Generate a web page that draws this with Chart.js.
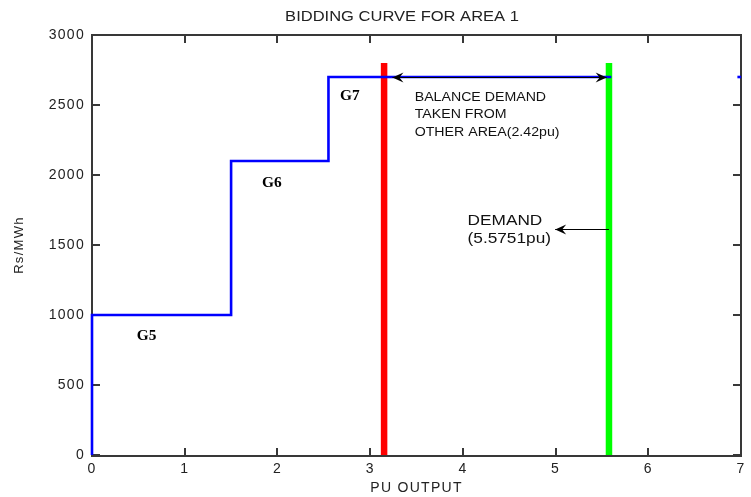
<!DOCTYPE html>
<html><head><meta charset="utf-8">
<script src="https://cdn.jsdelivr.net/npm/chart.js@4/dist/chart.umd.min.js"></script>
<style>html,body{margin:0;padding:0;background:#fff}</style>
</head><body><canvas id="c" width="751" height="497"></canvas>
<script>
// ---- data ----
const titleText = 'BIDDING CURVE FOR AREA 1';
const xTitle = 'PU OUTPUT';
const yTitle = 'Rs/MWh';
const xTicks = [0, 1, 2, 3, 4, 5, 6, 7];
const yTicks = [0, 500, 1000, 1500, 2000, 2500, 3000];
// stepped bidding curve (null = gap)
const bidX = [0, 0, 1.5, 1.5, 2.55, 2.55, 5.6, null, 6.96, 7.0];
const bidY = [0, 1000, 1000, 2100, 2100, 2700, 2700, null, 2700, 2700];
// own-area generation limit (red) and demand (green)
const genLimitX = [3.15, 3.15];
const genLimitY = [0, 2800];
const demandX = [5.5751, 5.5751];
const demandY = [0, 2800];
// generator labels
const genNames = ['G5', 'G6', 'G7'];
const genNameX = [0.59, 1.94, 2.78];
const genNameY = [850, 1943, 2564];
// annotations
const balanceLines = ['BALANCE DEMAND', 'TAKEN FROM', 'OTHER AREA(2.42pu)'];
const balanceX = 3.48;
const balanceY = [2552, 2428, 2302];
const demandLines = ['DEMAND', '(5.5751pu)'];
const demandTextX = 4.05;
const demandTextY = [1674, 1543];
const balArrowX = [3.24, 5.55];
const balArrowY = 2700;
const demArrowX = [5.5751, 4.995];
const demArrowY = 1614;

function segments(xs, ys) {
  const out = []; let cur = [];
  xs.forEach((x, i) => {
    if (x === null) { if (cur.length) out.push(cur); cur = []; }
    else cur.push({x: x, y: ys[i]});
  });
  if (cur.length) out.push(cur);
  return out;
}
const toPts = (xs, ys) => xs.map((x, i) => ({x: x, y: ys[i]}));

function arrowHead(ctx, tx, ty, dir) {
  const L = 11, W = 5, N = 7;
  ctx.beginPath();
  ctx.moveTo(tx, ty);
  ctx.lineTo(tx - dir * L, ty - W);
  ctx.lineTo(tx - dir * N, ty);
  ctx.lineTo(tx - dir * L, ty + W);
  ctx.closePath();
  ctx.fill();
}

function drawFrame(chart) {
  const {ctx, chartArea: a, scales} = chart;
  ctx.save();
  ctx.fillStyle = '#383838';
  const L = Math.round(a.left) - 1, R = Math.round(a.right) - 1;
  const T = Math.round(a.top) - 1, B = Math.round(a.bottom);
  ctx.fillRect(L, T, R - L + 2, 2);
  ctx.fillRect(L, B, R - L + 2, 2);
  ctx.fillRect(L, T, 2, B - T + 2);
  ctx.fillRect(R, T, 2, B - T + 2);
  const len = 7;
  for (const v of xTicks) {
    const p = Math.round(scales.x.getPixelForValue(v)) - 1;
    ctx.fillRect(p, B - len, 2, len);
    ctx.fillRect(p, T + 2, 2, len);
  }
  for (const v of yTicks) {
    const p = Math.round(scales.y.getPixelForValue(v)) - 1;
    ctx.fillRect(L + 2, p, len, 2);
    ctx.fillRect(R - len, p, len, 2);
  }
  ctx.restore();
}

const framePlugin = {
  id: 'frame',
  beforeRender(chart) { chart.ctx.letterSpacing = '1.3px'; },
  beforeDatasetsDraw(chart) { drawFrame(chart); },
  afterDatasetsDraw(chart) {
    const {ctx, scales} = chart;
    const X = v => scales.x.getPixelForValue(v), Y = v => scales.y.getPixelForValue(v);
    ctx.save();
    ctx.letterSpacing = '0px';
    ctx.fillStyle = '#222';
    ctx.textAlign = 'center';
    ctx.textBaseline = 'middle';
    ctx.save();
    ctx.translate(402, 17);
    ctx.scale(1.18, 1);
    ctx.font = '14px "Liberation Sans", Arial, sans-serif';
    ctx.fillText(titleText, 0, 0);
    ctx.restore();
    ctx.fillStyle = '#000';
    genNames.forEach((t, i) => {
      ctx.save();
      ctx.translate(X(genNameX[i]), Y(genNameY[i]));
      ctx.scale(1.1, 1);
      ctx.font = 'bold 14px "Liberation Serif", "Times New Roman", serif';
      ctx.fillText(t, 0, 0);
      ctx.restore();
    });
    ctx.textAlign = 'left';
    ctx.fillStyle = '#111';
    balanceLines.forEach((t, i) => {
      ctx.save();
      ctx.translate(X(balanceX), Y(balanceY[i]));
      ctx.scale(1.18, 1);
      ctx.font = '12px "Liberation Sans", Arial, sans-serif';
      ctx.fillText(t, 0, 0);
      ctx.restore();
    });
    demandLines.forEach((t, i) => {
      ctx.save();
      ctx.translate(X(demandTextX), Y(demandTextY[i]));
      ctx.scale(1.15, 1);
      ctx.font = '15px "Liberation Sans", Arial, sans-serif';
      ctx.fillText(t, 0, 0);
      ctx.restore();
    });
    ctx.strokeStyle = '#000';
    ctx.fillStyle = '#000';
    ctx.lineWidth = 1;
    const by = Math.round(Y(balArrowY)) + 0.5;
    const bx0 = X(balArrowX[0]), bx1 = X(balArrowX[1]);
    ctx.beginPath(); ctx.moveTo(bx0, by); ctx.lineTo(bx1, by); ctx.stroke();
    arrowHead(ctx, bx0, by, -1);
    arrowHead(ctx, bx1, by, 1);
    const dy = Math.round(Y(demArrowY)) + 0.5;
    const dx0 = X(demArrowX[0]), dx1 = X(demArrowX[1]);
    ctx.beginPath(); ctx.moveTo(dx0, dy); ctx.lineTo(dx1, dy); ctx.stroke();
    arrowHead(ctx, dx1, dy, -1);
    ctx.restore();
  }
};

const tickFont = {family: '"Liberation Sans", Arial, sans-serif', size: 14};
const lineBase = {pointRadius: 0, tension: 0, fill: false, clip: 5};

const bidSets = segments(bidX, bidY).map((seg, i) =>
  Object.assign({label: 'Bid ' + i, data: seg, borderColor: '#0000ff', borderWidth: 2.6}, lineBase));

new Chart(document.getElementById('c'), {
  type: 'line',
  data: {
    datasets: bidSets.concat([
      Object.assign({label: 'Own limit', data: toPts(genLimitX, genLimitY), borderColor: '#ff0000', borderWidth: 6.5}, lineBase),
      Object.assign({label: 'Demand', data: toPts(demandX, demandY), borderColor: '#00ff00', borderWidth: 6.5}, lineBase)
    ])
  },
  options: {
    responsive: false,
    animation: false,
    devicePixelRatio: 1,
    parsing: false,
    layout: {padding: {top: 35, right: 3, left: 0, bottom: 0}},
    plugins: {legend: {display: false}, tooltip: {enabled: false}, title: {display: false}},
    scales: {
      x: {
        type: 'linear', min: 0, max: 7,
        afterBuildTicks: s => { s.ticks = xTicks.map(v => ({value: v})); },
        afterFit: s => { s.height = 42; },
        grid: {display: false, drawTicks: false},
        border: {display: false},
        ticks: {font: tickFont, color: '#222', padding: 6, maxRotation: 0, callback: v => String(v)},
        title: {display: true, text: xTitle, font: tickFont, color: '#222', padding: {top: 0, bottom: 0}}
      },
      y: {
        type: 'linear', min: 0, max: 3000,
        afterBuildTicks: s => { s.ticks = yTicks.map(v => ({value: v})); },
        afterFit: s => { s.width = 92; },
        grid: {display: false, drawTicks: false},
        border: {display: false},
        ticks: {font: tickFont, color: '#222', padding: 7, callback: v => String(v)},
        title: {display: true, text: yTitle, font: {family: tickFont.family, size: 13}, color: '#222', padding: {top: 12, bottom: 0}}
      }
    }
  },
  plugins: [framePlugin]
});
</script>
</body></html>
